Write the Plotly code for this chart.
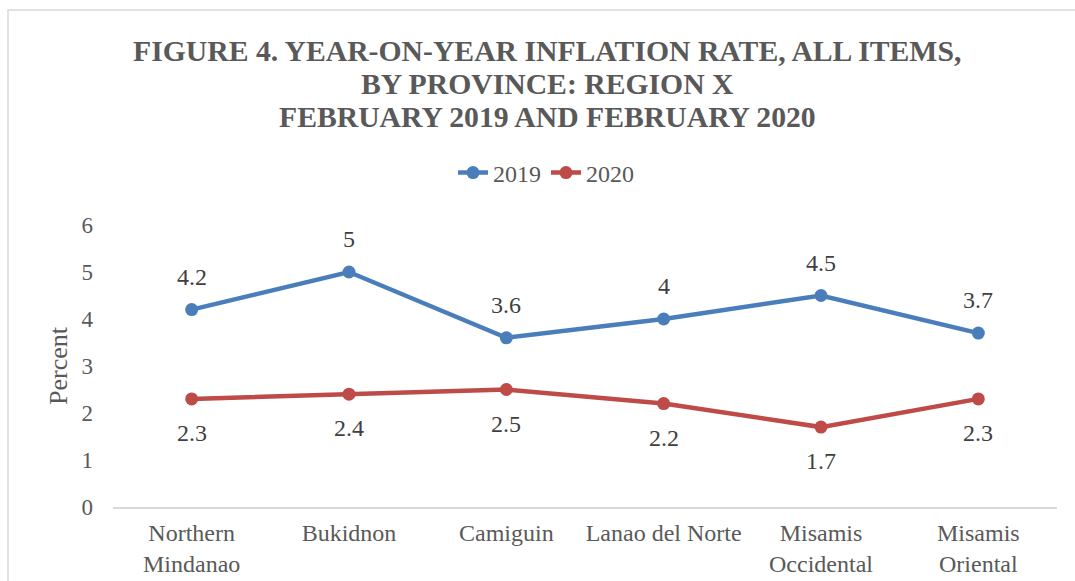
import plotly.graph_objects as go

categories = ["Northern<br>Mindanao", "Bukidnon", "Camiguin", "Lanao del Norte",
              "Misamis<br>Occidental", "Misamis<br>Oriental"]
values_2019 = [4.2, 5.0, 3.6, 4.0, 4.5, 3.7]
values_2020 = [2.3, 2.4, 2.5, 2.2, 1.7, 2.3]
y_ticks = [0, 1, 2, 3, 4, 5, 6]
title_lines = ["FIGURE 4. YEAR-ON-YEAR INFLATION RATE, ALL ITEMS,",
               "BY PROVINCE: REGION X",
               "FEBRUARY 2019 AND FEBRUARY 2020"]

FONT = "Liberation Serif"
GRAY = "#595959"
BLUE = "#4A7EBB"
RED = "#BE4B48"

fig = go.Figure()
fig.add_trace(go.Scatter(x=categories, y=values_2019, name="2019", mode="lines+markers",
                         line=dict(color=BLUE, width=4.5), marker=dict(size=13, color=BLUE)))
fig.add_trace(go.Scatter(x=categories, y=values_2020, name="2020", mode="lines+markers",
                         line=dict(color=RED, width=4.5), marker=dict(size=13, color=RED)))

for c, v in zip(categories, values_2019):
    fig.add_annotation(x=c, y=v, text=f"{v:g}", showarrow=False, yshift=33,
                       font=dict(family=FONT, size=24, color="#404040"))
for c, v in zip(categories, values_2020):
    fig.add_annotation(x=c, y=v, text=f"{v:g}", showarrow=False, yshift=-34,
                       font=dict(family=FONT, size=24, color="#404040"))

# title, one annotation per line
for line, yc in zip(title_lines, [51, 84, 117]):
    fig.add_annotation(text=f"<b>{line}</b>", showarrow=False,
                       xref="paper", x=(547 - 113) / 944, xanchor="center",
                       yref="paper", y=(507 - yc) / 282, yanchor="middle",
                       font=dict(family=FONT, size=29.7, color=GRAY))

fig.add_shape(type="rect", xref="paper", yref="paper",
              x0=(8 - 113) / 944, x1=(1085 - 113) / 944,
              y0=(507 - 600) / 282, y1=(507 - 10) / 282,
              line=dict(color="#d9d9d9", width=1.5), fillcolor="rgba(0,0,0,0)", layer="below")

fig.update_layout(
    width=1075, height=581,
    margin=dict(l=113, r=18, t=225, b=74, autoexpand=False),
    paper_bgcolor="white", plot_bgcolor="white",
    font=dict(family=FONT, size=22, color=GRAY),
    showlegend=True,
    legend=dict(orientation="h", x=(546 - 113) / 944, xanchor="center",
                y=(507 - 173) / 282, yanchor="middle",
                font=dict(family=FONT, size=24, color=GRAY), bgcolor="rgba(0,0,0,0)"),
    xaxis=dict(showgrid=False, showline=True, linecolor="#d9d9d9", linewidth=1.5,
               ticks="", range=[-0.5, 5.5], tickfont=dict(family=FONT, size=24, color=GRAY),
               ticklabelstandoff=3, automargin=False),
    yaxis=dict(range=[0, 6], tickvals=y_ticks, showgrid=False, showline=False, zeroline=False,
               ticks="", tickfont=dict(family=FONT, size=23, color=GRAY), ticklabelstandoff=19,
               automargin=False,
               title=dict(text="Percent", font=dict(family=FONT, size=26, color=GRAY), standoff=6)),
)

fig.write_html("out.html", config={"displayModeBar": False},
               post_script="document.body.style.margin='0';document.body.style.overflow='hidden';")
